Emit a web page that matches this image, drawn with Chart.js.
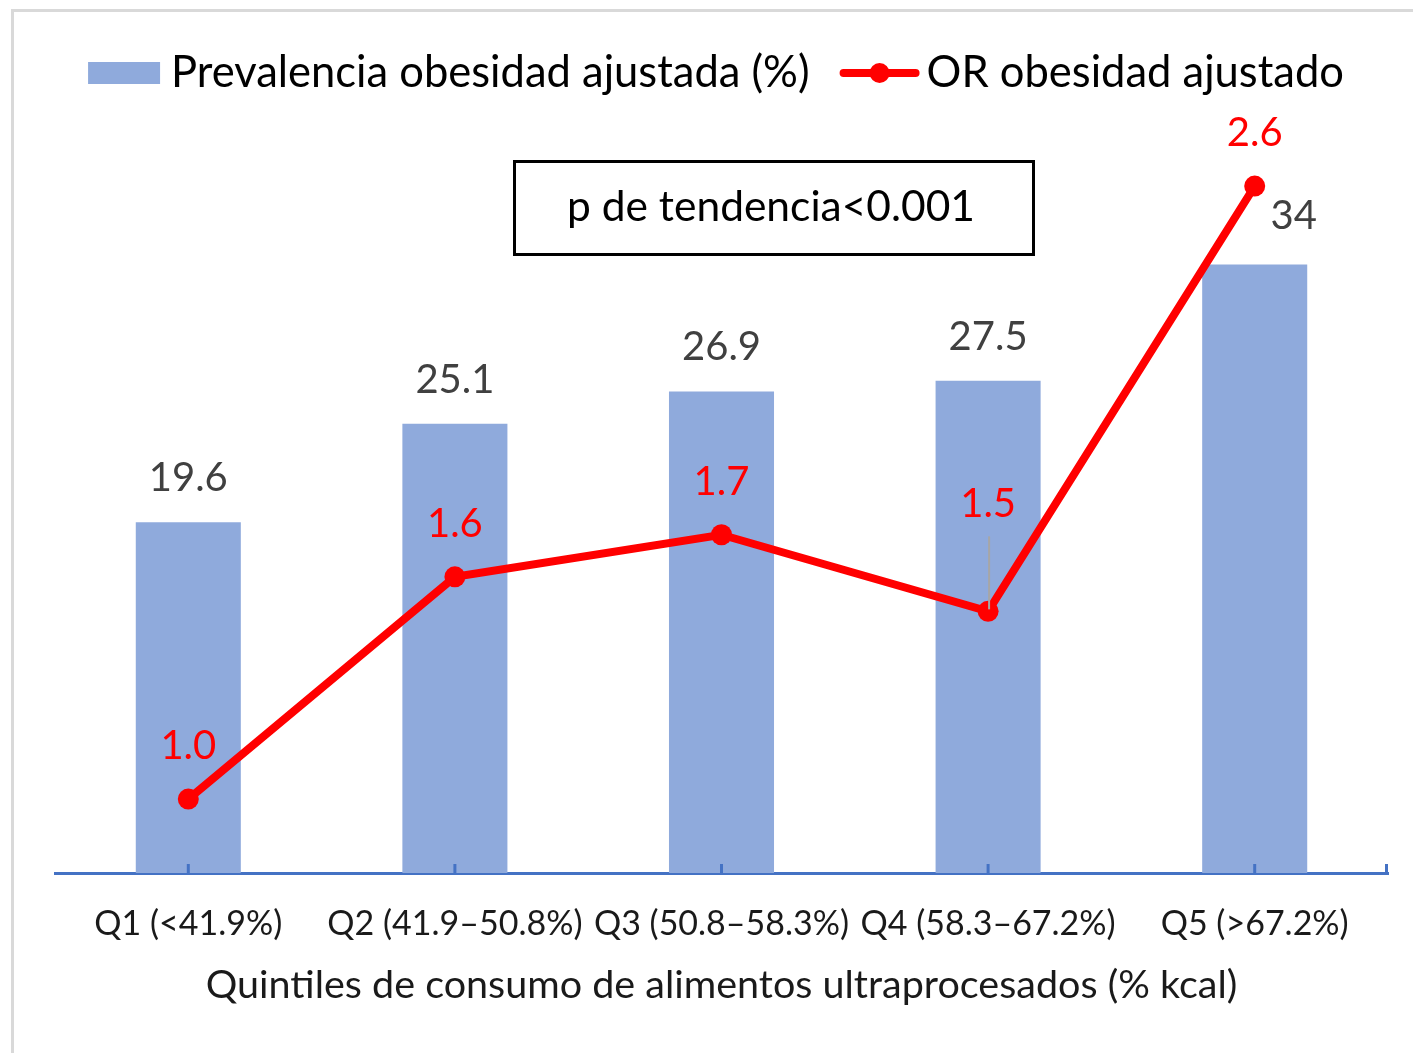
<!DOCTYPE html>
<html lang="es">
<head>
<meta charset="utf-8">
<title>Obesidad por quintiles de consumo de ultraprocesados</title>
<script src="https://cdn.jsdelivr.net/npm/chart.js@4.4.1/dist/chart.umd.min.js"></script>
<style>
  html, body { margin: 0; padding: 0; background: #ffffff; }
  #wrap { width: 1413px; height: 1053px; position: relative; }
</style>
</head>
<body>
<div id="wrap"><canvas id="grafica"></canvas></div>
<script>
  // Datos
  const quintiles = ['Q1 (<41.9%)', 'Q2 (41.9–50.8%)', 'Q3 (50.8–58.3%)', 'Q4 (58.3–67.2%)', 'Q5 (>67.2%)'];
  const prevalencia = [19.6, 25.1, 26.9, 27.5, 34];
  const oddsRatio = [1.0, 1.58, 1.69, 1.49, 2.6];
  const nombreBarras = 'Prevalencia obesidad ajustada (%)';
  const nombreLinea = 'OR obesidad ajustado';
  const textoTendencia = 'p de tendencia<0.001';
  const tituloEjeX = 'Quintiles de consumo de alimentos ultraprocesados (% kcal)';

  const AZUL = '#8FAADC';
  const ROJO = '#FF0000';
  const FUENTE = 'Lato, "Open Sans", sans-serif';

  // Marco gris, leyenda y recuadro de texto
  const decoracion = {
    id: 'decoracion',
    beforeDraw(chart) {
      const ctx = chart.ctx;
      ctx.save();
      ctx.strokeStyle = '#d9d9d9';
      ctx.lineWidth = 3;
      ctx.beginPath();
      ctx.moveTo(12.5, chart.height);
      ctx.lineTo(12.5, 10.5);
      ctx.lineTo(chart.width, 10.5);
      ctx.stroke();
      ctx.restore();
    },
    afterDraw(chart) {
      const ctx = chart.ctx;
      ctx.save();
      // leyenda
      ctx.font = '43.5px ' + FUENTE;
      ctx.textBaseline = 'middle';
      ctx.textAlign = 'left';
      const w1 = ctx.measureText(nombreBarras).width;
      const w2 = ctx.measureText(nombreLinea).width;
      const total = 72 + 11 + w1 + 30 + 80 + 7 + w2;
      let x = 716 - total / 2;
      const y = 73;
      ctx.fillStyle = AZUL;
      ctx.fillRect(x, y - 11, 72, 22);
      x += 72 + 11;
      ctx.fillStyle = '#000000';
      ctx.fillText(nombreBarras, x, y);
      x += w1 + 30;
      ctx.strokeStyle = ROJO;
      ctx.lineWidth = 8;
      ctx.lineCap = 'round';
      ctx.beginPath();
      ctx.moveTo(x + 4, y);
      ctx.lineTo(x + 76, y);
      ctx.stroke();
      ctx.fillStyle = ROJO;
      ctx.beginPath();
      ctx.arc(x + 40, y, 10, 0, Math.PI * 2);
      ctx.fill();
      x += 80 + 7;
      ctx.fillStyle = '#000000';
      ctx.fillText(nombreLinea, x, y);

      // recuadro "p de tendencia"
      ctx.strokeStyle = '#000000';
      ctx.lineWidth = 3;
      ctx.lineCap = 'butt';
      ctx.strokeRect(514.5, 161.5, 519, 93);
      ctx.font = '42.5px ' + FUENTE;
      ctx.textAlign = 'center';
      ctx.fillText(textoTendencia, 771, 207);

      // marcas del eje x (hacia arriba, en el centro de cada categoría)
      const ejeX = chart.scales.x;
      const base = chart.chartArea.bottom;
      ctx.strokeStyle = '#4472C4';
      ctx.lineWidth = 3;
      const marcas = quintiles.map((q, i) => ejeX.getPixelForValue(i));
      marcas.push(chart.chartArea.right - 1.5);
      marcas.forEach(px => {
        ctx.beginPath();
        ctx.moveTo(px, base);
        ctx.lineTo(px, base - 9);
        ctx.stroke();
      });
      ctx.restore();
    }
  };

  // Etiquetas de valores sobre barras y puntos
  const etiquetas = {
    id: 'etiquetas',
    afterDatasetsDraw(chart, args, opts) {
      const ctx = chart.ctx;
      ctx.save();
      ctx.font = '40px ' + FUENTE;
      ctx.textAlign = 'center';
      ctx.textBaseline = 'middle';

      const barras = chart.getDatasetMeta(1).data;
      ctx.fillStyle = '#404040';
      barras.forEach((b, i) => {
        const dx = opts.desplazaBarra[i] || 0;
        const dy = i === barras.length - 1 ? -48 : -44;
        ctx.fillText(String(prevalencia[i]), b.x + dx, b.y + dy);
      });

      const puntos = chart.getDatasetMeta(0).data;
      puntos.forEach((p, i) => {
        const extra = opts.subeLinea[i] || 0;
        if (extra) {
          // línea guía gris
          ctx.strokeStyle = '#a6a6a6';
          ctx.lineWidth = 2;
          ctx.beginPath();
          ctx.moveTo(p.x + 1, p.y - 2);
          ctx.lineTo(p.x + 1, p.y - 75);
          ctx.stroke();
        }
        ctx.fillStyle = ROJO;
        ctx.fillText(oddsRatio[i].toFixed(1), p.x, p.y - 53 - extra);
      });
      ctx.restore();
    }
  };

  new Chart(document.getElementById('grafica'), {
    data: {
      labels: quintiles,
      datasets: [
        {
          type: 'line',
          label: nombreLinea,
          data: oddsRatio,
          yAxisID: 'y1',
          borderColor: ROJO,
          backgroundColor: ROJO,
          borderWidth: 8,
          pointRadius: 10.5,
          pointHoverRadius: 10.5,
          pointBorderWidth: 0,
          tension: 0,
          order: 0
        },
        {
          type: 'bar',
          label: nombreBarras,
          data: prevalencia,
          yAxisID: 'y',
          backgroundColor: AZUL,
          borderWidth: 0,
          categoryPercentage: 1,
          barPercentage: 0.394,
          order: 1
        }
      ]
    },
    options: {
      responsive: true,
      maintainAspectRatio: false,
      animation: false,
      layout: { padding: { top: 157, left: 55, right: 25, bottom: 0 } },
      plugins: {
        legend: { display: false },
        tooltip: { enabled: false },
        etiquetas: { desplazaBarra: { 4: 39 }, subeLinea: { 3: 54 } }
      },
      scales: {
        x: {
          grid: { display: false, drawTicks: false },
          border: { display: true, color: '#4472C4', width: 3 },
          ticks: {
            autoSkip: false,
            maxRotation: 0,
            minRotation: 0,
            padding: 31,
            color: '#1a1a1a',
            font: { family: FUENTE, size: 34 }
          },
          title: {
            display: true,
            text: tituloEjeX,
            color: '#1a1a1a',
            font: { family: FUENTE, size: 39.5 },
            padding: { top: 0, bottom: 44 }
          },
          afterFit(scale) { scale.height = 180; }
        },
        y: { display: false, min: 0, max: 40 },
        y1: { display: false, min: 0.807, max: 2.676 }
      }
    },
    plugins: [decoracion, etiquetas]
  });
</script>
</body>
</html>
